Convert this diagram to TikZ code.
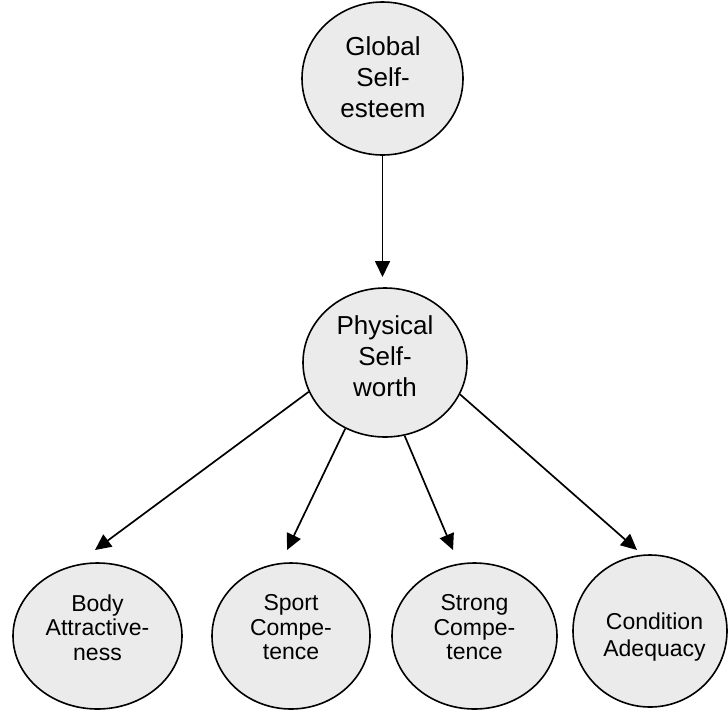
\documentclass[tikz,border=0pt]{standalone}
\usepackage{fontspec}
\setmainfont{Liberation Sans}
\usetikzlibrary{arrows.meta,shapes.geometric}
\definecolor{bubblefill}{gray}{0.92}
\begin{document}
\begin{tikzpicture}[x=1pt,y=-1pt,
  bubble/.style={ellipse, draw=black, line width=1.6pt, fill=bubblefill, inner sep=0pt},
  bigtext/.style={align=center, inner sep=0pt, font=\fontsize{26}{31}\selectfont},
  smalltext/.style={align=center, inner sep=0pt, font=\fontsize{23}{24.5}\selectfont},
  link/.style={line width=1.7pt, -{Triangle[length=16pt,width=15pt]}}]
\useasboundingbox (0,0) rectangle (728,710);

% ellipses
\node[bubble, minimum width=161pt, minimum height=153pt] (g) at (382.5,78.5) {};
\node[bubble, minimum width=164pt, minimum height=149pt] (p) at (385,362.5) {};
\node[bubble, minimum width=169pt, minimum height=146pt] (b) at (97.5,636) {};
\node[bubble, minimum width=158pt, minimum height=146pt] (s) at (291,636) {};
\node[bubble, minimum width=165pt, minimum height=146pt] (st) at (474.5,636) {};
\node[bubble, minimum width=154pt, minimum height=152pt] (c) at (650,631) {};

% labels
\node[bigtext] (gt) at (383,77) {Global\\Self-\\esteem};
\node[bigtext] (pt) at (385,356.5) {Physical\\Self-\\worth};
\node[smalltext] (bt) at (97.5,627.5) {Body\\Attractive-\\ness};
\node[smalltext] (sto) at (291,627.5) {Sport\\Compe-\\tence};
\node[smalltext] (stt) at (474.5,627.5) {Strong\\Compe-\\tence};
\node[smalltext, font=\fontsize{23}{26.5}\selectfont] (ct) at (654.5,637) {Condition\\Adequacy};

% arrow tips
\coordinate (tg) at (382.5,277);
\coordinate (tb) at (95,550);
\coordinate (ts) at (287,550);
\coordinate (tst) at (453,550);
\coordinate (tc) at (637,550);

% connectors
\draw[link] (g.south) -- (tg);
\draw[link] (p.201.6) -- (tb);
\draw[link] (p.239.2) -- (ts);
\draw[link] (p.285.4) -- (tst);
\draw[link] (p.337.6) -- (tc);
\end{tikzpicture}
\end{document}
